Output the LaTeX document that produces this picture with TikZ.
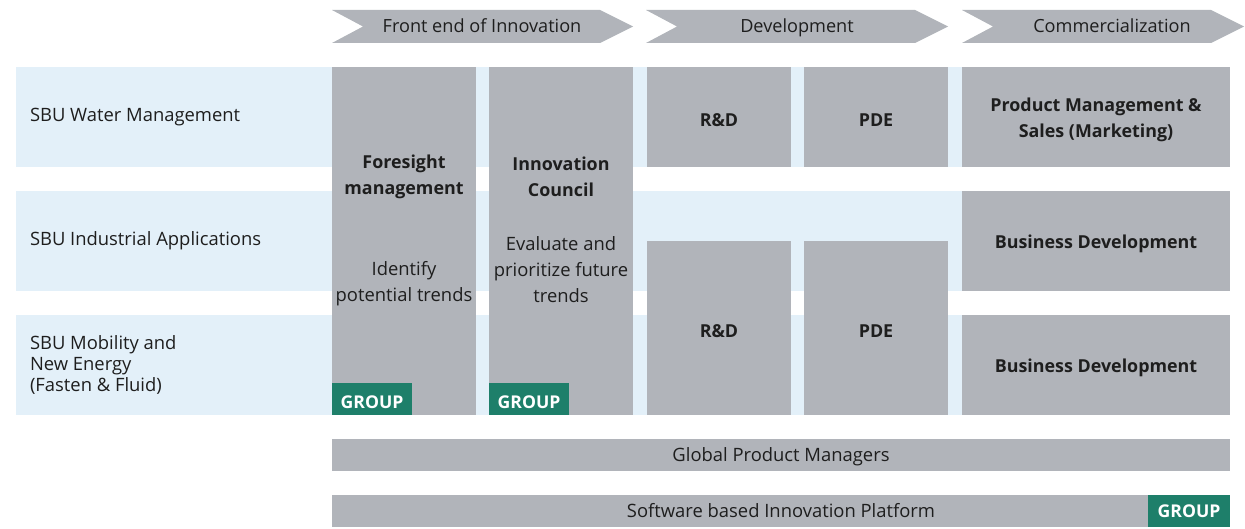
\documentclass[tikz,border=0pt]{standalone}
\usepackage{fontspec}
\setmainfont{Open Sans}
\definecolor{gbox}{RGB}{177,180,186}
\definecolor{lblue}{RGB}{227,240,249}
\definecolor{ggreen}{RGB}{30,127,106}
\definecolor{txt}{RGB}{30,30,30}
\begin{document}
\begin{tikzpicture}[x=0.75pt,y=-0.75pt,
  every node/.style={inner sep=0pt,outer sep=0pt,text=txt,font=\fontsize{13.8}{19.5}\selectfont},
  band/.style={fill=lblue,draw=none},
  gb/.style={fill=gbox,draw=none},
  chev/.style={fill=gbox,draw=none},
  ctext/.style={text height=9.8pt,text depth=0pt,font=\fontsize{13.6}{19.5}\selectfont},
  grp/.style={fill=ggreen,text=white,font=\fontsize{13.2}{15}\selectfont\bfseries,minimum width=60pt,minimum height=24pt},
  grpt/.style={text=white,font=\fontsize{13.2}{15}\selectfont\bfseries,text height=9.4pt,text depth=0pt},
  bt/.style={font=\fontsize{13.4}{19.5}\selectfont\bfseries,align=center},
  lt/.style={align=center},
  rowlab/.style={anchor=west,align=left}]
\useasboundingbox (0,0) rectangle (1245,528);
% chevrons
\fill[chev] (332,10) -- (600,10) -- (633,26.5) -- (600,43) -- (332,43) -- (363,26.5) -- cycle;
\fill[chev] (646,10) -- (915,10) -- (948,26.5) -- (915,43) -- (646,43) -- (677,26.5) -- cycle;
\fill[chev] (962,10) -- (1211,10) -- (1244,26.5) -- (1211,43) -- (962,43) -- (993,26.5) -- cycle;
\node[ctext] (c1) at (482,25.5) {Front end of Innovation};
\node[ctext] (c2) at (797,25.5) {Development};
\node[ctext] (c3) at (1112,25.5) {Commercialization};
% bands
\node[band,minimum width=910.5pt,minimum height=75pt,anchor=north west] (r1) at (16,67) {};
\node[band,minimum width=910.5pt,minimum height=75pt,anchor=north west] (r2) at (16,191) {};
\node[band,minimum width=910.5pt,minimum height=75pt,anchor=north west] (r3) at (16,315) {};
\node[rowlab] (l1) at (30,117) {SBU Water Management};
\node[rowlab] (l2) at (30,241) {SBU Industrial Applications};
\node[rowlab,font=\fontsize{13.8}{15.5}\selectfont] (l3) at (30,365) {SBU Mobility and\\New Energy\\(Fasten \& Fluid)};
% tall boxes
\node[gb,minimum width=108pt,minimum height=261pt,anchor=north west] (fs) at (332,67) {};
\node[gb,minimum width=108pt,minimum height=261pt,anchor=north west] (ic) at (489,67) {};
\node[bt] (fst) at (404,177) {Foresight\\management};
\node[lt] (fsd) at (404,283.5) {Identify\\potential trends};
\node[bt] (ict) at (561,177) {Innovation\\Council};
\node[lt] (icd) at (561,270) {Evaluate and\\prioritize future\\trends};
\node[grp,anchor=south west] (g1) at (332,415) {};
\node[grpt] at ([yshift=-2.2pt]g1.center) {GROUP};
\node[grp,anchor=south west] (g2) at (489,415) {};
\node[grpt] at ([yshift=-2.2pt]g2.center) {GROUP};
% development
\node[gb,minimum width=108pt,minimum height=75pt,anchor=north west] (rd1) at (647,67) {};
\node[bt] at (719,120) {R\&D};
\node[gb,minimum width=108pt,minimum height=75pt,anchor=north west] (pd1) at (804,67) {};
\node[bt] at (876,120) {PDE};
\node[gb,minimum width=108pt,minimum height=130.5pt,anchor=north west] (rd2) at (647,241) {};
\node[bt] at (719,331) {R\&D};
\node[gb,minimum width=108pt,minimum height=130.5pt,anchor=north west] (pd2) at (804,241) {};
\node[bt] at (876,331) {PDE};
% commercialization
\node[gb,minimum width=201pt,minimum height=75pt,anchor=north west] (pm) at (962,67) {};
\node[bt] at (1096,119.5) {Product Management \&\\Sales (Marketing)};
\node[gb,minimum width=201pt,minimum height=75pt,anchor=north west] (bd1) at (962,191) {};
\node[bt] at (1096,244) {Business Development};
\node[gb,minimum width=201pt,minimum height=75pt,anchor=north west] (bd2) at (962,315) {};
\node[bt] at (1096,368) {Business Development};
% bottom bars
\node[gb,minimum width=673.5pt,minimum height=24pt,anchor=north west] (gpm) at (332,439) {};
\node[ctext,font=\fontsize{13.8}{19.5}\selectfont] at (781,455) {Global Product Managers};
\node[gb,minimum width=673.5pt,minimum height=24pt,anchor=north west] (sip) at (332,495) {};
\node[ctext,font=\fontsize{13.8}{19.5}\selectfont] at (781,511) {Software based Innovation Platform};
\node[grp,minimum width=61.5pt,anchor=north east] (g3) at (1230,495) {};
\node[grpt] at ([yshift=0pt]g3.center) {GROUP};
\end{tikzpicture}
\end{document}
